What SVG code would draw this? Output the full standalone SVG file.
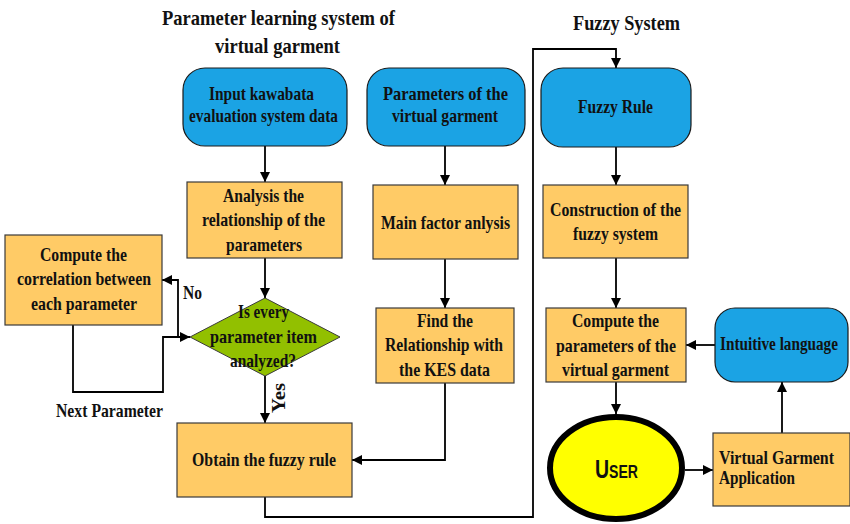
<svg xmlns="http://www.w3.org/2000/svg" width="850" height="524" viewBox="0 0 850 524">
  <defs>
    <marker id="arrow" viewBox="0 0 10 10" refX="10" refY="5" markerWidth="10" markerHeight="10" markerUnits="userSpaceOnUse" orient="auto">
      <path d="M0,0 L10,5 L0,10 Z" fill="#000"/>
    </marker>
    <style>
      .t { font-family: "Liberation Serif", "Times New Roman", serif; font-weight: bold; font-size: 19px; fill: #111; }
      .h { font-family: "Liberation Serif", "Times New Roman", serif; font-weight: bold; font-size: 22px; fill: #111; }
      .blue { fill: #1BA3E4; stroke: #1a1a1a; stroke-width: 1.2; }
      .orange { fill: #FFCB66; stroke: #3a3a3a; stroke-width: 1.2; }
      .green { fill: #92C000; stroke: #3a3a3a; stroke-width: 1; }
      .c { fill: none; stroke: #000; stroke-width: 1.8; }
      .ca { fill: none; stroke: #000; stroke-width: 1.8; marker-end: url(#arrow); }
    </style>
  </defs>
  <rect width="850" height="524" fill="#fff"/>

  <!-- section titles -->
  <g id="titles">
    <text class="h" x="162" y="25" textLength="233" lengthAdjust="spacingAndGlyphs">Parameter learning system of</text>
    <text class="h" x="215" y="53" textLength="125" lengthAdjust="spacingAndGlyphs">virtual garment</text>
    <text class="h" x="573" y="30" textLength="107" lengthAdjust="spacingAndGlyphs">Fuzzy System</text>
  </g>

  <!-- connectors -->
  <g id="connectors">
    <line class="ca" x1="265" y1="146" x2="265" y2="182"/>
    <line class="ca" x1="265" y1="258" x2="265" y2="298"/>
    <line class="ca" x1="265" y1="376" x2="265" y2="423"/>
    <!-- loop back from the correlation step -->
    <polyline class="ca" points="73,325 73,392 163,392 163,337 190,337"/>
    <!-- "No" branch -->
    <polyline class="ca" points="178,337 178,280 162,280"/>
    <line class="ca" x1="445" y1="146" x2="445" y2="185"/>
    <line class="ca" x1="445" y1="259" x2="445" y2="308"/>
    <polyline class="ca" points="445,383 445,460 352,460"/>
    <!-- fuzzy rule handed over to the fuzzy system -->
    <polyline class="ca" points="265,497 265,517 533,517 533,49 616,49 616,68"/>
    <line class="ca" x1="616" y1="147" x2="616" y2="185"/>
    <line class="ca" x1="616" y1="258" x2="616" y2="308"/>
    <line class="ca" x1="616" y1="382" x2="616" y2="414"/>
    <line class="ca" x1="715" y1="345" x2="686" y2="345"/>
    <line class="ca" x1="685" y1="470" x2="713" y2="470"/>
    <line class="ca" x1="782" y1="433" x2="782" y2="382"/>
  </g>

  <g id="input-kes">
    <rect class="blue" x="183" y="68" width="164" height="78" rx="22"/>
    <text class="t" x="209" y="100" textLength="105" lengthAdjust="spacingAndGlyphs">Input kawabata</text>
    <text class="t" x="189" y="122" textLength="149" lengthAdjust="spacingAndGlyphs">evaluation system data</text>
  </g>

  <g id="garment-params">
    <rect class="blue" x="367" y="68" width="158" height="78" rx="22"/>
    <text class="t" x="383" y="100" textLength="125" lengthAdjust="spacingAndGlyphs">Parameters of  the</text>
    <text class="t" x="392" y="122" textLength="106" lengthAdjust="spacingAndGlyphs">virtual garment</text>
  </g>

  <g id="analysis">
    <rect class="orange" x="187" y="182" width="155" height="76"/>
    <text class="t" x="223" y="202" textLength="81" lengthAdjust="spacingAndGlyphs">Analysis the</text>
    <text class="t" x="202" y="226" textLength="123" lengthAdjust="spacingAndGlyphs">relationship of the</text>
    <text class="t" x="226" y="251" textLength="76" lengthAdjust="spacingAndGlyphs">parameters</text>
  </g>

  <g id="correlation">
    <rect class="orange" x="5" y="235" width="157" height="90"/>
    <text class="t" x="40" y="261" textLength="87" lengthAdjust="spacingAndGlyphs">Compute the</text>
    <text class="t" x="17" y="285" textLength="134" lengthAdjust="spacingAndGlyphs">correlation between</text>
    <text class="t" x="31" y="310" textLength="106" lengthAdjust="spacingAndGlyphs">each parameter</text>
  </g>

  <g id="decision">
    <polygon class="green" points="265,298 340,337 265,376 190,337"/>
    <text class="t" x="238" y="318" textLength="51" lengthAdjust="spacingAndGlyphs">Is every</text>
    <text class="t" x="210" y="343" textLength="107" lengthAdjust="spacingAndGlyphs">parameter  item</text>
    <text class="t" x="230" y="367" textLength="66" lengthAdjust="spacingAndGlyphs">analyzed?</text>
  </g>

  <g id="labels">
    <text class="t" x="183" y="299" textLength="19" lengthAdjust="spacingAndGlyphs">No</text>
    <text class="t" x="56" y="417" textLength="107" lengthAdjust="spacingAndGlyphs">Next Parameter</text>
    <text class="t" transform="translate(285,413) rotate(-90)" x="0" y="0" textLength="30" lengthAdjust="spacingAndGlyphs">Yes</text>
  </g>

  <g id="main-factor">
    <rect class="orange" x="373" y="185" width="145" height="74"/>
    <text class="t" x="381" y="229" textLength="129" lengthAdjust="spacingAndGlyphs">Main factor anlysis</text>
  </g>

  <g id="kes-relation">
    <rect class="orange" x="376" y="308" width="138" height="75"/>
    <text class="t" x="417" y="327" textLength="56" lengthAdjust="spacingAndGlyphs">Find the</text>
    <text class="t" x="385" y="351" textLength="118" lengthAdjust="spacingAndGlyphs">Relationship with</text>
    <text class="t" x="399" y="376" textLength="91" lengthAdjust="spacingAndGlyphs">the KES data</text>
  </g>

  <g id="obtain-rule">
    <rect class="orange" x="177" y="423" width="175" height="74"/>
    <text class="t" x="192" y="466" textLength="144" lengthAdjust="spacingAndGlyphs">Obtain the fuzzy rule</text>
  </g>

  <g id="fuzzy-rule">
    <rect class="blue" x="541" y="68" width="150" height="79" rx="22"/>
    <text class="t" x="578" y="113" textLength="75" lengthAdjust="spacingAndGlyphs">Fuzzy Rule</text>
  </g>

  <g id="construction">
    <rect class="orange" x="543" y="185" width="145" height="73"/>
    <text class="t" x="550" y="216" textLength="131" lengthAdjust="spacingAndGlyphs">Construction of the</text>
    <text class="t" x="573" y="240" textLength="85" lengthAdjust="spacingAndGlyphs">fuzzy system</text>
  </g>

  <g id="compute-params">
    <rect class="orange" x="546" y="308" width="140" height="74"/>
    <text class="t" x="572" y="327" textLength="87" lengthAdjust="spacingAndGlyphs">Compute the</text>
    <text class="t" x="556" y="352" textLength="120" lengthAdjust="spacingAndGlyphs">parameters of the</text>
    <text class="t" x="562" y="376" textLength="107" lengthAdjust="spacingAndGlyphs">virtual garment</text>
  </g>

  <g id="intuitive">
    <rect class="blue" x="715" y="308" width="133" height="74" rx="20"/>
    <!-- condensed horizontally to fit the narrow box -->
    <text class="t" transform="translate(720,350) scale(0.8,1)" x="0" y="0" textLength="147.5" lengthAdjust="spacingAndGlyphs">Intuitive language</text>
  </g>

  <g id="user">
    <ellipse cx="616" cy="468" rx="66" ry="51" fill="#FFFF00" stroke="#000" stroke-width="6"/>
    <text x="595" y="478" textLength="43" lengthAdjust="spacingAndGlyphs" style="font-family: 'Liberation Sans', Arial, sans-serif; font-weight: bold; font-size: 25px; font-variant: small-caps; fill: #111;">User</text>
  </g>

  <g id="garment-app">
    <rect class="orange" x="713" y="433" width="137" height="73"/>
    <text class="t" transform="translate(719,464) scale(0.8,1)" x="0" y="0" textLength="143.75" lengthAdjust="spacingAndGlyphs">Virtual  Garment</text>
    <text class="t" transform="translate(719,484) scale(0.8,1)" x="0" y="0" textLength="95" lengthAdjust="spacingAndGlyphs">Application</text>
  </g>
</svg>
